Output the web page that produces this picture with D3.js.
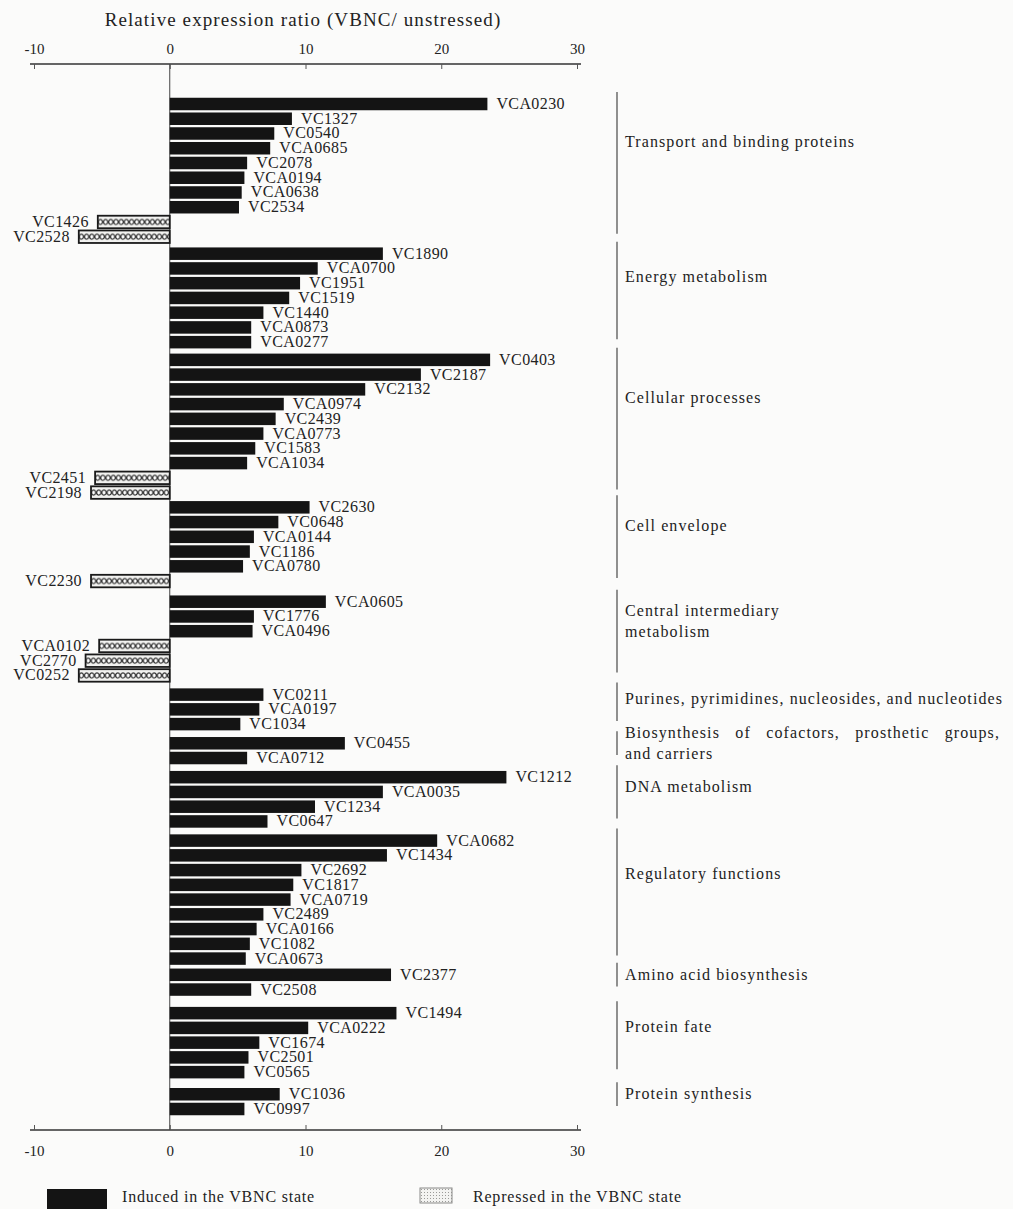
<!DOCTYPE html>
<html>
<head>
<meta charset="utf-8">
<script src="https://cdn.jsdelivr.net/npm/d3@7"></script>
<style>
  html, body { margin: 0; padding: 0; background: #fbfbfa; }
  svg { display: block; }
  text { font-family: "Liberation Serif", "DejaVu Serif", serif; fill: #222; }
</style>
</head>
<body>
<svg id="chart" width="1013" height="1209"></svg>
<script>
// Functional role categories, top to bottom
const groups = [
  "Transport and binding proteins",
  "Energy metabolism",
  "Cellular processes",
  "Cell envelope",
  "Central intermediary\nmetabolism",
  "Purines, pyrimidines, nucleosides, and nucleotides",
  "Biosynthesis of cofactors, prosthetic groups,\nand carriers",
  "DNA metabolism",
  "Regulatory functions",
  "Amino acid biosynthesis",
  "Protein fate",
  "Protein synthesis"
];

// Gene identifiers within each category
const genes = [
  ["VCA0230", "VC1327", "VC0540", "VCA0685", "VC2078", "VCA0194", "VCA0638", "VC2534", "VC1426", "VC2528"],
  ["VC1890", "VCA0700", "VC1951", "VC1519", "VC1440", "VCA0873", "VCA0277"],
  ["VC0403", "VC2187", "VC2132", "VCA0974", "VC2439", "VCA0773", "VC1583", "VCA1034", "VC2451", "VC2198"],
  ["VC2630", "VC0648", "VCA0144", "VC1186", "VCA0780", "VC2230"],
  ["VCA0605", "VC1776", "VCA0496", "VCA0102", "VC2770", "VC0252"],
  ["VC0211", "VCA0197", "VC1034"],
  ["VC0455", "VCA0712"],
  ["VC1212", "VCA0035", "VC1234", "VC0647"],
  ["VCA0682", "VC1434", "VC2692", "VC1817", "VCA0719", "VC2489", "VCA0166", "VC1082", "VCA0673"],
  ["VC2377", "VC2508"],
  ["VC1494", "VCA0222", "VC1674", "VC2501", "VC0565"],
  ["VC1036", "VC0997"]
];

// Relative expression ratio (VBNC / unstressed); negative = repressed
const ratios = [
  [23.4, 9.0, 7.7, 7.4, 5.7, 5.5, 5.3, 5.1, -5.3, -6.7],
  [15.7, 10.9, 9.6, 8.8, 6.9, 6.0, 6.0],
  [23.6, 18.5, 14.4, 8.4, 7.8, 6.9, 6.3, 5.7, -5.5, -5.8],
  [10.3, 8.0, 6.2, 5.9, 5.4, -5.8],
  [11.5, 6.2, 6.1, -5.2, -6.2, -6.7],
  [6.9, 6.6, 5.2],
  [12.9, 5.7],
  [24.8, 15.7, 10.7, 7.2],
  [19.7, 16.0, 9.7, 9.1, 8.9, 6.9, 6.4, 5.9, 5.6],
  [16.3, 6.0],
  [16.7, 10.2, 6.6, 5.8, 5.5],
  [8.1, 5.5]
];

const xTicks = [-10, 0, 10, 20, 30];
const axisTitle = "Relative expression ratio (VBNC/ unstressed)";
const legendLabels = ["Induced in the VBNC state", "Repressed in the VBNC state"];

// Extra vertical space after each category block, in row units
const gapAfter = [0.15, 0.2, 0.0, 0.4, 0.3, 0.3, 0.3, 0.3, 0.1, 0.6, 0.5, 0];

const svg = d3.select("#chart");
const BAR_H = 12.5;

// Flatten rows with their vertical slot
const rows = [];
const groupSpans = [];
let slot = 0;
groups.forEach((g, gi) => {
  const first = slot;
  genes[gi].forEach((id, j) => {
    rows.push({ id, v: ratios[gi][j], gi, slot });
    slot += 1;
  });
  groupSpans.push({ name: g, first, last: slot - 1, n: genes[gi].length });
  slot += gapAfter[gi];
});
const lastSlot = rows[rows.length - 1].slot;

const x = d3.scaleLinear().domain([-10, 30]).range([34, 577]);
const y = d3.scaleLinear().domain([0, lastSlot]).range([104, 1109]);
const pitch = y(1) - y(0);

const topY = 64, bottomY = 1130;

// Patterns
const defs = svg.append("defs");
const chain = defs.append("pattern")
  .attr("id", "chain").attr("patternUnits", "userSpaceOnUse")
  .attr("width", 5.2).attr("height", BAR_H);
chain.append("rect").attr("width", 5.2).attr("height", BAR_H).attr("fill", "#f2f2f0");
chain.append("ellipse").attr("cx", 2.6).attr("cy", BAR_H / 2).attr("rx", 2.1).attr("ry", 2.5)
  .attr("fill", "#fdfdfd").attr("stroke", "#333").attr("stroke-width", 1.2);

const stipple = defs.append("pattern")
  .attr("id", "stipple").attr("patternUnits", "userSpaceOnUse")
  .attr("width", 3).attr("height", 3);
stipple.append("rect").attr("width", 3).attr("height", 3).attr("fill", "#f3f3f1");
stipple.append("rect").attr("x", 1).attr("y", 1).attr("width", 1).attr("height", 1).attr("fill", "#9a9a98");

// Axis title
svg.append("text")
  .attr("x", 303).attr("y", 26)
  .attr("text-anchor", "middle")
  .style("font-size", "19px")
  .style("letter-spacing", "1.1px")
  .text(axisTitle);

// Top and bottom axes
const axisTopGen = d3.axisTop(x).tickValues(xTicks).tickSizeInner(-5).tickSizeOuter(0).tickPadding(10)
  .tickFormat(d3.format("d"));
const axisBotGen = d3.axisBottom(x).tickValues(xTicks).tickSizeInner(-5).tickSizeOuter(0).tickPadding(15)
  .tickFormat(d3.format("d"));

function styleAxis(g) {
  g.select(".domain").attr("stroke", "#333").attr("stroke-width", 1.3)
    .attr("d", `M${x(-10) - 4},0H${x(30) + 4}`);
  g.selectAll(".tick line").attr("stroke", "#555").attr("stroke-width", 1);
  g.selectAll(".tick text")
    .style("font-size", "15px")
    .style("font-family", "'Liberation Serif', serif")
    .attr("fill", "#333")
    .text(d => d < 0 ? "-" + Math.abs(d) : d);
}
svg.append("g").attr("transform", `translate(0,${topY})`).call(axisTopGen).call(styleAxis);
svg.append("g").attr("transform", `translate(0,${bottomY})`).call(axisBotGen).call(styleAxis);

// Zero baseline
svg.append("line")
  .attr("x1", x(0)).attr("x2", x(0)).attr("y1", topY).attr("y2", bottomY)
  .attr("stroke", "#444").attr("stroke-width", 1);

// Induced bars
const pos = rows.filter(d => d.v > 0);
const neg = rows.filter(d => d.v < 0);

svg.append("g").selectAll("rect").data(pos).join("rect")
  .attr("x", x(0))
  .attr("y", d => y(d.slot) - BAR_H / 2)
  .attr("width", d => x(d.v) - x(0))
  .attr("height", BAR_H)
  .attr("fill", "#141414");

// Repressed bars
svg.append("g").selectAll("g").data(neg).join("g")
  .attr("transform", d => `translate(${x(d.v)},${y(d.slot) - BAR_H / 2})`)
  .append("rect")
  .attr("width", d => x(0) - x(d.v))
  .attr("height", BAR_H)
  .attr("fill", "url(#chain)")
  .attr("stroke", "#1a1a1a").attr("stroke-width", 1.8);

// Gene labels
svg.append("g").selectAll("text").data(rows).join("text")
  .attr("x", d => d.v > 0 ? x(d.v) + 9 : x(d.v) - 9)
  .attr("y", d => y(d.slot) + 5)
  .attr("text-anchor", d => d.v > 0 ? "start" : "end")
  .style("font-size", "16px")
  .style("letter-spacing", "0.4px")
  .text(d => d.id);

// Category brackets and names
const bx = 617;
const cat = svg.append("g");
cat.selectAll("line").data(groupSpans).join("line")
  .attr("x1", bx).attr("x2", bx)
  .attr("y1", d => y(d.first) - 12)
  .attr("y2", d => y(d.last) - 3)
  .attr("stroke", "#555").attr("stroke-width", 1.3);

const labelW = 375;
const catFont = { size: "16px", spacing: "1.1px" };
groupSpans.forEach(gs => {
  const lines = gs.name.split("\n");
  const ly = y(gs.first) + Math.max(0, gs.n - 2) * 0.32 * pitch + 5 - (lines.length - 1) * 10;
  lines.forEach((ln, li) => {
    const t = cat.append("text")
      .attr("x", bx + 8).attr("y", ly + li * 21)
      .style("font-size", catFont.size)
      .style("letter-spacing", catFont.spacing)
      .text(ln);
    // justify the first line of wrapped labels across the column
    if (lines.length > 1 && li === 0 && t.node().getComputedTextLength() > 300) {
      const words = ln.split(" ");
      t.remove();
      const ws = words.map(w => {
        const tt = cat.append("text").attr("y", ly)
          .style("font-size", catFont.size).style("letter-spacing", catFont.spacing).text(w);
        return { node: tt, w: tt.node().getComputedTextLength() };
      });
      const total = d3.sum(ws, d => d.w);
      const space = (labelW - total) / (ws.length - 1);
      let cx = bx + 8;
      ws.forEach(d => { d.node.attr("x", cx); cx += d.w + space; });
    }
  });
});

// Legend
const lg = svg.append("g");
lg.append("rect").attr("x", 47).attr("y", 1189).attr("width", 60).attr("height", 22).attr("fill", "#141414");
lg.append("text").attr("x", 122).attr("y", 1202).style("font-size", "16px").style("letter-spacing", "0.8px")
  .text(legendLabels[0]);
lg.append("rect").attr("x", 420).attr("y", 1188).attr("width", 32).attr("height", 15)
  .attr("fill", "url(#stipple)").attr("stroke", "#8a8a88").attr("stroke-width", 1);
lg.append("text").attr("x", 473).attr("y", 1202).style("font-size", "16px").style("letter-spacing", "0.8px")
  .text(legendLabels[1]);
</script>
</body>
</html>
